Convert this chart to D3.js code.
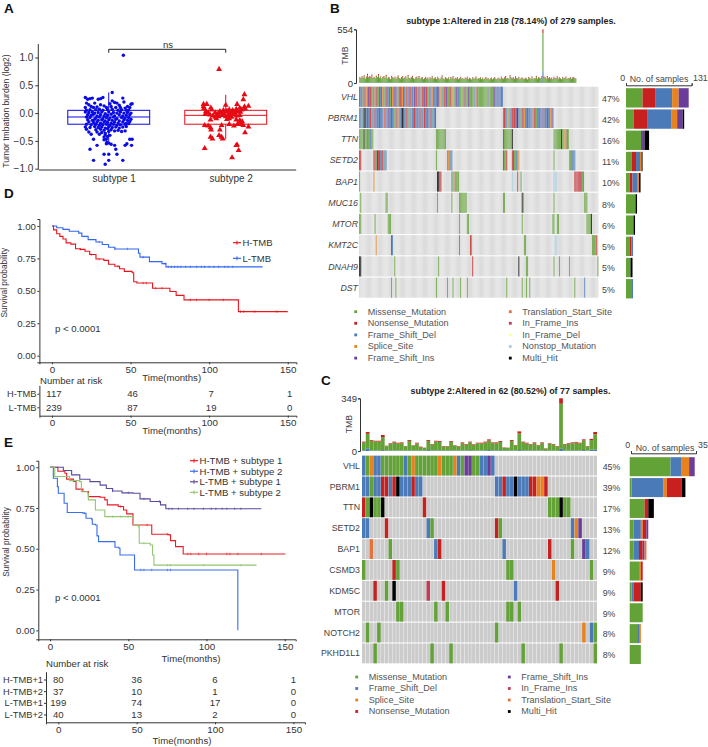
<!DOCTYPE html>
<html>
<head>
<meta charset="utf-8">
<script src="https://cdnjs.cloudflare.com/ajax/libs/d3/7.8.5/d3.min.js"></script>
<style>
body { margin: 0; background: #fff; }
svg { display: block; font-family: "Liberation Sans", Arial, sans-serif; }
.axis text { font-family: "Liberation Sans", Arial, sans-serif; fill: #333; }
</style>
</head>
<body>
<div id="chart"></div>
<script>
// ---------- panel A values: [jitter, log2 TMB] ----------
const subtypeNames = ["subtype 1", "subtype 2"];
const boxQ1 = [-0.2, -0.2];
const boxMedian = [-0.07, -0.04];
const boxQ3 = [0.05, 0.05];
const whiskerLow = [-0.55, -0.47];
const whiskerHigh = [0.37, 0.33];
const aTicks = [-1, -0.5, 0, 0.5, 1];
const subtype1Points = [
  [.125,1.04],[.03,.37],[-.2,.28],[-.18,.25],[-.16,.26],[-.14,.27],[-.09,.25],[-.07,.26],[-.05,.28],[.12,.27],
  [.03,.22],[.05,.19],[-.19,.18],[-.17,.15],[-.12,.18],[-.07,.15],[.01,.17],[.07,.18],[.09,.14],[.13,.2],
  [.16,.12],[.19,.16],[.2,.17],[-.2,.1],[-.15,.12],[-.13,.1],[-.1,.11],[-.04,.13],[-.02,.1],[.02,.12],
  [.06,.1],[.1,.1],[.14,.09],[.18,.1],[-.19,.05],[-.16,.06],[-.11,.06],[-.08,.07],[-.05,.05],[-.01,.06],
  [.03,.07],[.08,.05],[.11,.06],[.15,.05],[.17,.05],[-.2,.02],[-.17,.01],[-.14,.02],[-.12,0],[-.09,.01],
  [-.06,.02],[-.03,-.01],[0,.02],[.04,.01],[.07,0],[.1,.02],[.13,0],[.16,.01],[.19,0],[-.18,-.03],
  [-.15,-.04],[-.13,-.02],[-.1,-.05],[-.07,-.03],[-.04,-.05],[-.01,-.04],[.02,-.02],[.05,-.05],[.09,-.03],[.12,-.05],
  [.15,-.04],[.18,-.03],[-.19,-.07],[-.16,-.08],[-.11,-.09],[-.08,-.07],[-.05,-.1],[-.02,-.08],[.01,-.09],[.04,-.07],
  [.07,-.1],[.11,-.08],[.14,-.09],[.17,-.08],[-.18,-.12],[-.14,-.13],[-.12,-.11],[-.09,-.13],[-.06,-.12],[-.03,-.14],
  [0,-.12],[.03,-.13],[.06,-.11],[.09,-.14],[.13,-.12],[.16,-.13],[.19,-.11],[-.17,-.16],[-.13,-.17],[-.1,-.16],
  [-.07,-.18],[-.04,-.16],[-.01,-.17],[.02,-.18],[.05,-.16],[.08,-.18],[.12,-.16],[.15,-.18],[.18,-.15],[-.19,-.2],
  [-.15,-.21],[-.11,-.2],[-.08,-.22],[-.05,-.21],[-.02,-.2],[.01,-.22],[.04,-.2],[.07,-.22],[.1,-.21],[.14,-.2],
  [.17,-.19],[-.2,-.25],[-.16,-.26],[-.12,-.24],[-.09,-.26],[-.06,-.25],[-.03,-.27],[0,-.24],[.03,-.26],[.06,-.25],
  [.09,-.27],[.12,-.25],[.15,-.24],[-.19,-.29],[-.11,-.3],[-.07,-.29],[-.04,-.31],[-.01,-.28],[.02,-.3],[.05,-.32],
  [.08,-.31],[.11,-.33],[.14,-.32],[-.17,-.34],[-.1,-.34],[-.06,-.35],[-.03,-.36],[0,-.33],[-.15,-.38],[-.08,-.38],
  [-.03,-.39],[-.04,-.43],[-.01,-.42],[.01,-.4],[-.02,-.47],[-.13,-.47],[.18,-.47],[.2,-.47],[-.04,-.48],[-.02,-.55],
  [-.017,-.53],[0,-.54],[.02,-.56],[-.16,-.65],[-.13,-.85],[-.04,-.74],[0,-.74],[-.03,-.92],[0,-.85],[.12,-.85],
  [.07,-.74],[.05,-.58],[.06,-.65],[-.1,-.58],[.14,-.58],[.155,-.55],[.195,-.58]
];
const subtype2Points = [
  [-.057,.79],[.16,.335],[.15,.245],[.097,.16],[0,.145],[-.19,.16],[-.162,.16],[-.185,.085],[-.128,.095],[.194,.125],
  [.16,.115],[.165,.08],[-.19,.12],[.12,.09],[.09,.07],[.06,.05],[.135,.06],[-.12,.06],[-.05,.03],[-.02,.05],
  [.01,.04],[.03,.06],[.05,.02],[.1,.03],[.125,.02],[-.17,.03],[-.15,0],[-.175,-.02],[-.135,-.03],[-.09,.01],
  [-.07,-.02],[-.04,.0],[-.02,-.01],[0,.02],[.03,-.01],[.06,-.02],[.08,0],[-.11,-.05],[-.09,-.07],[-.06,-.06],
  [-.03,-.04],[0,-.06],[.02,-.05],[.05,-.07],[.09,-.05],[.12,-.04],[-.13,-.12],[-.08,-.1],[.01,-.11],[.03,-.1],
  [.09,-.12],[.12,-.13],[.14,-.15],[-.18,-.22],[-.15,-.23],[-.13,-.26],[-.125,-.3],[-.035,-.22],[.03,-.2],[.07,-.23],
  [.1,-.2],[.12,-.18],[.135,-.2],[.15,-.22],[.194,-.245],[-.05,-.3],[-.057,-.4],[-.037,-.43],[-.026,-.46],[-.13,-.43],
  [-.114,-.46],[.165,-.35],[-.18,-.635],[.054,-.8],[.097,-.57],[.11,-.67],[.09,-.58]
];

// ---------- mutation types ----------
const typeLetters = ["M","N","D","S","I","T","F","E","O","H"];
const typeNames = ["Missense_Mutation","Nonsense_Mutation","Frame_Shift_Del","Splice_Site","Frame_Shift_Ins","Translation_Start_Site","In_Frame_Ins","In_Frame_Del","Nonstop_Mutation","Multi_Hit"];
const typeColors = ["#62a237","#c8201f","#4a7ab8","#e8821e","#6a3d9a","#e8703a","#c23a57","#ffff99","#a6cee3","#000000"];

// ---------- panel B values ----------
const genesB = ["VHL","PBRM1","TTN","SETD2","BAP1","MUC16","MTOR","KMT2C","DNAH9","DST"];
const pctB = ["47%","42%","16%","11%","10%","8%","6%","5%","5%","5%"];
const cellsB = [
  [[0,"NDIMNDSMIDNDMISNDMIDNSDMINDIMNSDINDMINDSIDMNDINMDSIDNMIDSNDIMNDMIDSNDMDNIMSDMNDIMMDNMSMDIMDMMSMDNMMIMMDMMDSIMMMMMMMMMDSMMMDIDDIDDID"]],
  [[0,"DDMDHHDNDDNMDDNDIDNDDDSNDDIDDNDDMDNSDDIHNDDNDMDSDDNDDIDNDDSNDDNDDNDMDN"],[131,"DNDDSMDDNDNDIHDDMNDSDDNDIDDSNDMDDNDDIDNDNDDSDI"]],
  [[0,"MMMMH"],[5,"MMDMMDMM"],[70,"MMMMMMMM"],[78,"D"],[131,"NMMMMMMMH"],[177,"MMMMMMMHMMSMNM"]],
  [[0,"NN"],[13,"NNMHNNDDNMDD"],[70,"M"],[80,"MSMDD"],[131,"NMMN"],[139,"NNMMDMS"],[177,"M"],[191,"SMMDDD"]],
  [[0,"M"],[13,"S"],[71,"HH"],[73,"NN"],[84,"DMSDMSM"],[139,"O"],[144,"N"],[146,"OM"],[177,"OOO"],[196,"NNFNNF"],[202,"DMD"]],
  [[1,"M"],[24,"MM"],[71,"M"],[84,"M"],[91,"MMMMMMM"],[131,"MM"],[148,"HM"],[177,"M"],[205,"MMM"]],
  [[0,"MM"],[14,"M"],[26,"MMM"],[91,"M"],[98,"MM"],[148,"M"],[176,"MM"],[180,"MM"],[207,"MMMM"],[211,"H"]],
  [[15,"S"],[29,"ND"],[91,"D"],[101,"NM"],[150,"MM"],[178,"OO"],[212,"MMMM"],[216,"N"]],
  [[0,"HH"],[32,"M"],[72,"M"],[103,"N"],[145,"H"],[152,"MM"],[177,"M"],[182,"M"],[191,"M"],[217,"M"]],
  [[29,"M"],[33,"M"],[70,"M"],[80,"M"],[85,"M"],[92,"M"],[98,"M"],[134,"M"],[148,"M"],[152,"M"],[155,"M"],[196,"M"],[205,"D"]]
];
const sideBMissense = [33,15,30,11,7,19,15,7,9,12];
const sideBNonsense = [25,27,2,9,6,0,0,4,0,0];
const sideBDel = [34,49,0,8,9,0,0,3,0,2];
const sideBSplice = [13,11,0,3,4,0,0,0,0,0];
const sideBIns = [20,11,5,0,0,0,0,0,0,0];
const sideBMulti = [0,3,9,2,3,3,3,0,4,0];
const tmbBTotal = [
  62,48,70,55,80,44,66,95,58,72, 60,88,50,64,47,76,58,92,54,68, 45,60,72,52,84,46,63,55,40,74,
  58,49,66,42,60,78,51,44,62,70, 47,56,68,43,82,52,46,60,74,50, 41,58,66,48,72,44,54,62,40,50,
  64,46,56,38,60,48,70,44,52,58, 42,66,50,36,54,78,46,40,60,52, 44,58,38,62,48,70,42,54,46,60,
  40,52,64,44,50,38,56,46,66,42, 54,48,36,60,44,52,68,40,50,46, 58,42,54,38,48,62,44,52,36,46,
  56,40,50,60,44,38,54,48,42,66, 50,44,58,72,46,52,40,80,56,48, 60,44,70,52,46,64,38,50,58,44,
  42,54,48,36,62,50,44,68,40,52, 46,74,44,60,54,48,70,554,66,58, 44,72,50,62,46,56,40,64,52,48,
  70,44,58,50,40,60,46,54,66,42, 52,48,60,44,56,62,50,46
];
const tmbBDel = [
  4,3,5,4,6,3,4,5,3,4, 5,3,4,3,5,4,3,6,4,3, 3,4,5,3,4,3,5,4,3,4, 3,4,3,5,4,3,4,3,5,4,
  3,4,5,3,6,4,3,4,5,3, 3,4,3,5,4,3,4,5,3,4, 4,3,5,3,4,3,5,3,4,4, 3,4,3,3,4,6,3,3,4,3,
  3,4,3,5,3,4,3,4,3,4, 3,3,4,3,4,3,4,3,5,3, 4,3,3,4,3,4,5,3,3,3, 4,3,4,3,3,4,3,4,3,3,
  4,3,3,4,3,3,4,3,3,5, 3,3,4,5,3,4,3,6,4,3, 4,3,5,4,3,4,3,3,4,3, 3,4,3,3,4,3,3,5,3,4,
  3,5,3,4,4,3,5,120,5,4, 3,5,3,4,3,4,3,4,3,3, 5,3,4,3,3,4,3,4,5,3, 4,3,4,3,4,4,3,3
];
const tmbBNon = [
  8,6,10,6,12,5,8,14,7,9, 7,13,5,8,5,11,6,14,6,8, 5,7,10,5,12,5,7,6,4,10, 7,5,8,4,7,11,5,4,7,9,
  5,6,9,4,12,5,5,7,10,5, 4,7,8,5,10,4,6,7,4,5, 8,5,6,4,7,5,9,4,5,7, 4,8,5,3,6,11,5,4,7,5,
  4,7,4,8,5,9,4,6,5,7, 4,5,8,4,5,4,6,5,8,4, 6,5,3,7,4,5,9,4,5,5, 7,4,6,4,5,8,4,5,3,5,
  6,4,5,7,4,4,6,5,4,8, 5,4,7,10,5,6,4,12,6,5, 7,4,9,5,5,8,4,5,7,4, 4,6,5,3,8,5,4,9,4,5,
  5,10,4,7,6,5,9,40,8,7, 4,10,5,7,5,6,4,8,5,5, 9,4,7,5,4,7,5,6,8,4, 5,5,7,4,6,7,5,5
];

// ---------- panel C values ----------
const genesC = ["VHL","PBRM1","TTN","SETD2","BAP1","CSMD3","KDM5C","MTOR","NOTCH2","PKHD1L1"];
const pctC = ["45%","39%","17%","13%","12%","9%","9%","9%","8%","8%"];
const cellsC = [
  [[0,"DMSDDMMMMMMDMSMMMMMMSMMMSDMIIMMDDID"]],
  [[0,"DDMDDNNDNHDDDNDD"],[35,"DDNDDHDDDNNSSN"]],
  [[0,"NMHMMH"],[16,"N"],[49,"MMMHMM"]],
  [[0,"DD"],[6,"N"],[17,"DM"],[35,"NM"],[55,"DSI"]],
  [[2,"T"],[7,"M"],[19,"DN"],[37,"D"],[49,"N"],[55,"M"],[58,"ID"]],
  [[0,"M"],[8,"NM"],[38,"MM"],[50,"S"],[60,"M"]],
  [[3,"N"],[6,"M"],[8,"H"],[17,"F"],[21,"N"],[40,"D"],[51,"N"]],
  [[9,"MM"],[19,"M"],[22,"M"],[38,"MM"],[41,"M"]],
  [[1,"M"],[4,"M"],[35,"M"],[58,"S"],[60,"DM"]],
  [[3,"M"],[18,"M"],[23,"M"],[42,"M"],[52,"M"],[61,"M"]]
];
const sideCMissense = [22,1,8,2,2,5,1,7,4,6];
const sideCDel = [6,17,0,4,3,0,1,0,1,0];
const sideCSplice = [4,2,0,1,0,1,0,0,1,0];
const sideCNonsense = [0,8,2,2,2,1,4,0,0,0];
const sideCIns = [3,0,0,1,1,0,0,0,0,0];
const sideCStart = [0,0,0,0,1,0,0,0,0,0];
const sideCMulti = [0,2,3,0,0,0,1,0,0,0];
const tmbCTotal = [
  62,126,73,68,68,106,35,51,62,55, 57,33,73,38,55,29,22,73,46,68, 66,33,33,66,38,33,57,46,62,44,
  55,55,62,77,57,57,66,24,22,73, 40,130,62,55,46,57,40,57,18,51, 46,33,349,46,51,57,60,55,77,33, 80,126
];
const tmbCDel = [
  5,18,4,3,3,6,2,3,3,3, 3,2,4,2,3,2,2,6,3,4, 4,2,2,4,3,2,3,3,5,3, 3,3,4,6,4,4,5,2,2,4,
  3,6,4,3,3,4,3,3,1,3, 3,2,14,3,3,4,4,3,6,3, 10,8
];
const tmbCNon = [
  6,12,5,5,6,14,3,4,6,5, 5,2,6,3,5,3,2,6,4,5, 6,3,3,5,3,3,5,4,5,4, 4,5,5,8,5,5,6,2,2,6,
  3,14,6,5,4,5,3,5,2,4, 4,3,36,4,5,5,5,5,7,3, 8,16
];

// ---------- survival curves: step times and survival values ----------
const kmTicks = [0,50,100,150];
const kmYTicks = [0,0.25,0.5,0.75,1];
const dHighTime = [0,1,3,5,7,9,12,15,18,21,24,28,33,36,40,43,46,51,52,54,64,75,79,84,118.6,150];
const dHighSurv = [1,.97,.94,.92,.90,.87,.86,.825,.82,.805,.78,.745,.735,.705,.69,.67,.65,.64,.57,.56,.52,.495,.465,.43,.34,.34];
const dHighCens = [18,25,30,42,58,60,66,70,88,92,100,109,120,122,129,143];
const dLowTime = [0,3,7,11,17,19,23,28,32,36,40,52,55,56,61,62,70,72.5,134];
const dLowSurv = [1,.987,.974,.96,.945,.92,.895,.877,.857,.836,.823,.823,.79,.76,.76,.725,.71,.685,.685];
const dLowCens = [30,40,48,58,72,74,76,78,80,82,85,88,92,95,97,100,103,106,110,112,115];
const riskRowsD = ["H-TMB","L-TMB"];
const riskHighD = [117,46,7,1];
const riskLowD = [239,87,19,0];

const eRedTime = [0,5,9.5,10.6,15,16.6,21,24.5,32,35,36.6,43.6,47,49,53,65,76,77,80.2,85.1,150.4];
const eRedSurv = [1,.975,.963,.927,.913,.866,.851,.82,.816,.80,.769,.759,.738,.714,.646,.589,.585,.55,.513,.468,.468];
const eRedCens = [45,62,75,88,90,95,100,113,115,120,135];
const eBlueTime = [0,1.5,2.1,4.7,5.3,9,11,21,23,26.6,27,29,30,31,40,41.5,44,44.7,53,54,120,120.01];
const eBlueSurv = [1,1,.932,.881,.84,.779,.722,.718,.687,.681,.65,.646,.579,.544,.544,.509,.503,.462,.462,.37,.37,0];
const eBlueCens = [22,58,60,65,75,77];
const ePurpleTime = [0,8.5,13.8,19,25.5,32,36,40,46,53,57.5,64,70.6,74,135];
const ePurpleSurv = [1,.98,.953,.926,.912,.89,.87,.854,.843,.84,.806,.79,.769,.745,.745];
const ePurpleCens = [40,50,60,70,76,78,82,88,92,98,103,106,110,113,118,122];
const eGreenTime = [0,3,12,12.5,19,20,24,24.5,29,35,53,53.3,56.5,57,64,65.5,66.4,132];
const eGreenSurv = [1,.943,.943,.918,.912,.85,.84,.80,.738,.697,.693,.646,.636,.534,.523,.462,.40,.40];
const eGreenCens = [40,45,50,60,75,77,98,122];
const eLegend = ["H-TMB + subtype 1","H-TMB + subtype 2","L-TMB + subtype 1","L-TMB + subtype 2"];
const riskRowsE = ["H-TMB+1","H-TMB+2","L-TMB+1","L-TMB+2"];
const riskE1 = [80,36,6,1];
const riskE2 = [37,10,1,0];
const riskE3 = [199,74,17,0];
const riskE4 = [40,13,2,0];

const colorOf = l => typeColors[typeLetters.indexOf(l)];
const nameOf = l => typeNames[typeLetters.indexOf(l)];

const svg = d3.select("#chart").append("svg").attr("width", 708).attr("height", 747);

function label(x, y, text, size, opts) {
  opts = opts || {};
  const t = svg.append("text")
    .attr("x", x).attr("y", y)
    .attr("dy", "0.35em")
    .attr("font-size", size)
    .attr("text-anchor", opts.anchor || "start")
    .attr("font-weight", opts.weight || "normal")
    .attr("font-style", opts.style || "normal")
    .attr("fill", opts.fill || "#333")
    .text(text);
  if (opts.rotate) t.attr("transform", `rotate(-90 ${x} ${y})`);
  return t;
}

function styleAxis(g, size) {
  g.attr("class", "axis");
  g.selectAll("text").attr("font-size", size);
  g.selectAll("path,line").attr("stroke", "#333").attr("stroke-width", 1);
}

// panel letters
[["A",4,8],["D",4,193],["B",330,8],["C",321,380],["E",4,442]].forEach(d => {
  label(d[1], d[2], d[0], 13.5, {weight: "bold", fill: "#111"});
});

// ---------- A: box + jitter ----------
function drawBox() {
  const x = d3.scaleLinear().domain([0.398, 2.598]).range([38.3, 295.7]);
  const y = d3.scaleLinear().domain([-1, 1]).range([168.7, 57.5]);
  const colors = ["#0a0ae6", "#e60a14"];
  const top = 44, bottom = 169.5;

  [1, 2].forEach((c, i) => {
    const g = svg.append("g").attr("fill", "none").attr("stroke", colors[i]).attr("stroke-width", 1);
    g.append("line").attr("x1", x(c)).attr("x2", x(c)).attr("y1", y(whiskerHigh[i])).attr("y2", y(boxQ3[i]));
    g.append("line").attr("x1", x(c)).attr("x2", x(c)).attr("y1", y(boxQ1[i])).attr("y2", y(whiskerLow[i]));
    g.append("rect").attr("x", x(c - 0.35)).attr("width", x(c + 0.35) - x(c - 0.35))
      .attr("y", y(boxQ3[i])).attr("height", y(boxQ1[i]) - y(boxQ3[i]));
    g.append("line").attr("x1", x(c - 0.35)).attr("x2", x(c + 0.35)).attr("y1", y(boxMedian[i])).attr("y2", y(boxMedian[i]));
  });

  svg.append("g").selectAll("circle").data(subtype1Points).join("circle")
    .attr("cx", d => x(1 + d[0])).attr("cy", d => y(d[1])).attr("r", 1.7).attr("fill", colors[0]);
  const tri = d3.symbol().type(d3.symbolTriangle).size(15);
  svg.append("g").selectAll("path").data(subtype2Points).join("path")
    .attr("d", tri).attr("transform", d => `translate(${x(2 + d[0])},${y(d[1])})`).attr("fill", colors[1]);

  const ax = svg.append("g").attr("transform", `translate(0,${bottom})`)
    .call(d3.axisBottom(x).tickValues([1, 2]).tickFormat(d => subtypeNames[d - 1]).tickSize(0).tickPadding(5));
  styleAxis(ax, 10);
  ax.selectAll("text").attr("dx", 5);
  const ay = svg.append("g").attr("transform", "translate(38.3,0)")
    .call(d3.axisLeft(y).tickValues(aTicks).tickFormat(d3.format(".1f")).tickSize(3).tickPadding(2));
  styleAxis(ay, 10);
  ay.select(".domain").attr("d", `M0,${top}V${bottom}`);

  label(6, 111, "Tumor tmbation burden (log2)", 8.6, {anchor: "middle", rotate: true});
  svg.append("path").attr("fill", "none").attr("stroke", "#222").attr("stroke-width", 1)
    .attr("d", `M${x(1)},52.7V49.3H${x(2)}V52.7`);
  label(168, 44.5, "ns", 9.5, {anchor: "middle"});
}

// ---------- B / C: oncoplot ----------
function drawOnco(cfg) {
  const n = cfg.n;
  const x = d3.scaleBand().domain(d3.range(n)).range(cfg.xRange).paddingInner(cfg.pad);
  const barX = d3.scaleBand().domain(d3.range(n)).range(cfg.xRange).paddingInner(0.02);
  const row = d3.scaleBand().domain(cfg.genes).range(cfg.yRange).paddingInner(0.05);

  // top TMB bars
  const table = cfg.total.map((t, i) => ({i: i, del: cfg.del[i], mis: t - cfg.del[i] - cfg.non[i], non: cfg.non[i]}));
  const tmbY = d3.scaleLinear().domain([0, cfg.tmbMax]).range(cfg.tmbRange);
  const stacked = d3.stack().keys(["del", "mis", "non"])(table);
  const tmbColors = {del: colorOf("D"), mis: colorOf("M"), non: colorOf("N")};
  svg.append("g").selectAll("g").data(stacked).join("g").attr("fill", d => tmbColors[d.key])
    .selectAll("rect").data(d => d).join("rect")
    .attr("x", d => barX(d.data.i)).attr("width", barX.bandwidth())
    .attr("y", d => tmbY(d[1])).attr("height", d => tmbY(d[0]) - tmbY(d[1]));

  const tmbAxis = svg.append("g").attr("transform", `translate(${cfg.tmbAxisX},0)`)
    .call(d3.axisLeft(tmbY).tickValues([0, cfg.tmbMax]).tickSize(2).tickPadding(1));
  styleAxis(tmbAxis, 9.5);
  tmbAxis.selectAll("text").attr("fill", "#444");
  label(cfg.tmbAxisX - 11.5, (cfg.tmbRange[0] + cfg.tmbRange[1]) / 2 - 0.5, "TMB", 8.6, {anchor: "middle", rotate: true, fill: "#444"});

  // grey cells and the mutations on top
  cfg.genes.forEach((g, i) => {
    const rowG = svg.append("g");
    rowG.selectAll("rect.bg").data(d3.range(n)).join("rect").attr("class", "bg")
      .attr("x", d => x(d)).attr("width", x.bandwidth())
      .attr("y", row(g)).attr("height", row.bandwidth()).attr("fill", cfg.grey);
    const hits = [];
    cfg.cells[i].forEach(run => {
      run[1].split("").forEach((l, k) => hits.push({col: run[0] + k, type: l}));
    });
    rowG.selectAll("rect.hit").data(hits).join("rect").attr("class", "hit")
      .attr("x", d => x(d.col)).attr("width", x.bandwidth())
      .attr("y", row(g)).attr("height", row.bandwidth()).attr("fill", d => colorOf(d.type));
    label(cfg.geneX, row(g) + row.bandwidth() / 2, g, 8.8, {anchor: "end", style: cfg.geneStyle, fill: "#444"});
    label(cfg.pctX, row(g) + row.bandwidth() / 2 + 1.8, cfg.pct[i], 8.8, {fill: "#444"});
  });

  // side bars
  const sx = d3.scaleLinear().domain([0, cfg.sideMax]).range(cfg.sideRange);
  const sideTable = cfg.genes.map((g, i) => {
    const r = {gene: g};
    cfg.sideKeys.forEach((k, j) => { r[k] = cfg.sideSeries[j][i]; });
    return r;
  });
  svg.append("g").selectAll("g").data(d3.stack().keys(cfg.sideKeys)(sideTable)).join("g")
    .attr("fill", d => colorOf(d.key))
    .selectAll("rect").data(d => d).join("rect")
    .attr("x", d => sx(d[0]) + cfg.sideShift).attr("width", d => sx(d[1]) - sx(d[0]))
    .attr("y", d => row(d.data.gene) + 1.5).attr("height", row.bandwidth() - 0.8);

  const sa = svg.append("g").attr("transform", `translate(0,${cfg.sideAxisY})`)
    .call(d3.axisTop(sx).tickValues([0, cfg.sideMax]).tickSize(2).tickFormat(""));
  styleAxis(sa, 9);
  label(cfg.side0X, cfg.sideLabelY, "0", 8.8, {anchor: "middle", fill: "#444"});
  label(cfg.sideMaxX, cfg.sideLabelY, String(cfg.sideMax), 8.8, {fill: "#444"});
  label(cfg.sideTitleX, cfg.sideTitleY, "No. of samples", 8.8, {anchor: "middle", fill: "#444"});

  label(cfg.titleX, cfg.titleY, cfg.title, 8.9, {anchor: "middle", weight: "bold", fill: "#222"});

  // legend
  cfg.legend.forEach((col, c) => {
    col.forEach((l, i) => {
      const yy = cfg.legendY + i * cfg.legendStep;
      svg.append("rect").attr("x", cfg.legendX[c] - 1.4).attr("y", yy - 1.4).attr("width", 2.8).attr("height", 2.8).attr("fill", colorOf(l));
      label(cfg.legendX[c] + 12, yy - 0.2, nameOf(l), 9.1, {fill: "#555"});
    });
  });
}

// ---------- D / E: Kaplan-Meier ----------
function drawCurve(x, y, time, surv, cens, color) {
  const line = d3.line().x(d => x(d[0])).y(d => y(d[1])).curve(d3.curveStepAfter);
  svg.append("path").datum(time.map((t, i) => [t, surv[i]]))
    .attr("d", line).attr("fill", "none").attr("stroke", color).attr("stroke-width", 1.1);
  svg.append("g").selectAll("line").data(cens).join("line")
    .attr("x1", d => x(d)).attr("x2", d => x(d))
    .attr("y1", d => y(surv[d3.bisectRight(time, d) - 1]) - 1.2)
    .attr("y2", d => y(surv[d3.bisectRight(time, d) - 1]) + 1.2)
    .attr("stroke", color).attr("stroke-width", 0.7);
}

function kmLegend(x0, y0, text, color, size) {
  svg.append("line").attr("x1", x0).attr("x2", x0 + 8).attr("y1", y0).attr("y2", y0).attr("stroke", color).attr("stroke-width", 1.2);
  svg.append("line").attr("x1", x0 + 4).attr("x2", x0 + 4).attr("y1", y0 - 2).attr("y2", y0 + 2).attr("stroke", color).attr("stroke-width", 1);
  label(x0 + 9.5, y0, text, size, {fill: "#333"});
}

function drawKmFrame(cfg) {
  const x = d3.scaleLinear().domain(cfg.xDomain).range(cfg.xRange);
  const y = d3.scaleLinear().domain(cfg.yDomain).range(cfg.yRange);
  const ax = svg.append("g").attr("transform", `translate(0,${cfg.yRange[0]})`)
    .call(d3.axisBottom(x).tickValues(kmTicks).tickSize(2).tickPadding(1.5));
  styleAxis(ax, 9.8);
  const ay = svg.append("g").attr("transform", `translate(${cfg.xRange[0]},0)`)
    .call(d3.axisLeft(y).tickValues(kmYTicks).tickFormat(d3.format(".2f")).tickSize(2).tickPadding(1.5));
  styleAxis(ay, 9.6);
  return {x: x, y: y};
}

function drawRisk(cfg) {
  const rows = d3.scalePoint().domain(cfg.rows).range(cfg.rowRange).padding(cfg.rowPad);
  const x = d3.scaleLinear().domain(cfg.xDomain).range(cfg.xRange);
  const la = svg.append("g").attr("transform", `translate(${cfg.xRange[0]},0)`)
    .call(d3.axisLeft(rows).tickSize(2).tickPadding(1).tickSizeOuter(0));
  styleAxis(la, 9.3);
  const ba = svg.append("g").attr("transform", `translate(0,${cfg.rowRange[1]})`)
    .call(d3.axisBottom(x).tickValues(kmTicks).tickSize(2).tickPadding(1.5));
  styleAxis(ba, 9.8);
  cfg.rows.forEach((r, i) => {
    svg.append("g").selectAll("text").data(cfg.values[i]).join("text")
      .attr("x", (d, k) => x(kmTicks[k]) + cfg.numShift).attr("y", rows(r)).attr("dy", "0.35em")
      .attr("text-anchor", "middle").attr("font-size", 9.6).attr("fill", "#333").text(d => d);
  });
}

drawBox();

drawOnco({
  n: 218, xRange: [359.3, 598.3], pad: 0.3, yRange: [86.7, 297.7], grey: "#d2d2d2",
  genes: genesB, pct: pctB, cells: cellsB, geneStyle: "italic", geneX: 358, pctX: 602,
  total: tmbBTotal, del: tmbBDel, non: tmbBNon, tmbMax: 554, tmbRange: [83, 29.3], tmbAxisX: 356,
  sideMax: 131, sideRange: [626, 691.7], sideShift: 0, sideAxisY: 85.3,
  sideKeys: ["M","N","D","S","I","H"],
  sideSeries: [sideBMissense, sideBNonsense, sideBDel, sideBSplice, sideBIns, sideBMulti],
  side0X: 622.7, sideMaxX: 693, sideLabelY: 77.5, sideTitleX: 659, sideTitleY: 79.3,
  title: "subtype 1:Altered in 218 (78.14%) of 279 samples.", titleX: 511, titleY: 21,
  legend: [["M","N","D","S","I"], ["T","F","E","O","H"]], legendX: [355.7, 510.3], legendY: 311.7, legendStep: 11.6
});

drawOnco({
  n: 62, xRange: [362, 597], pad: 0.09, yRange: [455.7, 663.3], grey: "#cbcbcb",
  genes: genesC, pct: pctC, cells: cellsC, geneStyle: "normal", geneX: 360, pctX: 602.7,
  total: tmbCTotal, del: tmbCDel, non: tmbCNon, tmbMax: 349, tmbRange: [451, 398.3], tmbAxisX: 360,
  sideMax: 35, sideRange: [631, 696], sideShift: -1.3, sideAxisY: 453.3,
  sideKeys: ["M","D","S","N","I","T","H"],
  sideSeries: [sideCMissense, sideCDel, sideCSplice, sideCNonsense, sideCIns, sideCStart, sideCMulti],
  side0X: 627.7, sideMaxX: 698, sideLabelY: 445, sideTitleX: 665, sideTitleY: 447.7,
  title: "subtype 2:Altered in 62 (80.52%) of 77 samples.", titleX: 510.5, titleY: 391,
  legend: [["M","D","S","N"], ["I","F","T","H"]], legendX: [356.7, 509.3], legendY: 677, legendStep: 11.5
});

// D
const kmD = drawKmFrame({xDomain: [-8, 155.5], xRange: [39.4, 296.4], yDomain: [-0.051, 1.054], yRange: [362.3, 219]});
drawCurve(kmD.x, kmD.y, dHighTime, dHighSurv, dHighCens, "#e8141e");
drawCurve(kmD.x, kmD.y, dLowTime, dLowSurv, dLowCens, "#3366f2");
kmLegend(233, 242.7, "H-TMB", "#e8141e", 9.5);
kmLegend(233, 258.3, "L-TMB", "#3366f2", 9.5);
label(55, 329, "p < 0.0001", 9.6);
label(4.5, 282.7, "Survival probability", 8.3, {anchor: "middle", rotate: true});
label(171.7, 377.7, "Time(months)", 9.6, {anchor: "middle"});
label(40, 380.5, "Number at risk", 9.6);
drawRisk({rows: riskRowsD, values: [riskHighD, riskLowD], rowRange: [385.3, 415.7], rowPad: 0.62,
  xDomain: [-8, 155.5], xRange: [39.4, 296.4], numShift: 2});
label(171.7, 431, "Time(months)", 9.6, {anchor: "middle"});

// E
const kmE = drawKmFrame({xDomain: [-7.5, 157], xRange: [38.3, 295.7], yDomain: [-0.055, 1.04], yRange: [639.3, 460.7]});
drawCurve(kmE.x, kmE.y, eRedTime, eRedSurv, eRedCens, "#ec1c24");
drawCurve(kmE.x, kmE.y, eBlueTime, eBlueSurv, eBlueCens, "#3a6cf0");
drawCurve(kmE.x, kmE.y, ePurpleTime, ePurpleSurv, ePurpleCens, "#5b4a9c");
drawCurve(kmE.x, kmE.y, eGreenTime, eGreenSurv, eGreenCens, "#93c672");
["#ec1c24", "#3a6cf0", "#5b4a9c", "#93c672"].forEach((c, i) => {
  kmLegend(190, 460.7 + i * 10.55, eLegend[i], c, 9.6);
});
label(55, 597.7, "p < 0.0001", 9.6);
label(6, 542, "Survival probability", 8.3, {anchor: "middle", rotate: true});
label(191, 659, "Time(months)", 9.6, {anchor: "middle"});
label(46, 663.7, "Number at risk", 9.6);
drawRisk({rows: riskRowsE, values: [riskE1, riskE2, riskE3, riskE4], rowRange: [671.7, 722.3], rowPad: 0.67,
  xDomain: [-7.85, 157.4], xRange: [46, 305], numShift: 0});
label(182, 741, "Time(months)", 9.6, {anchor: "middle"});
</script>
</body>
</html>
